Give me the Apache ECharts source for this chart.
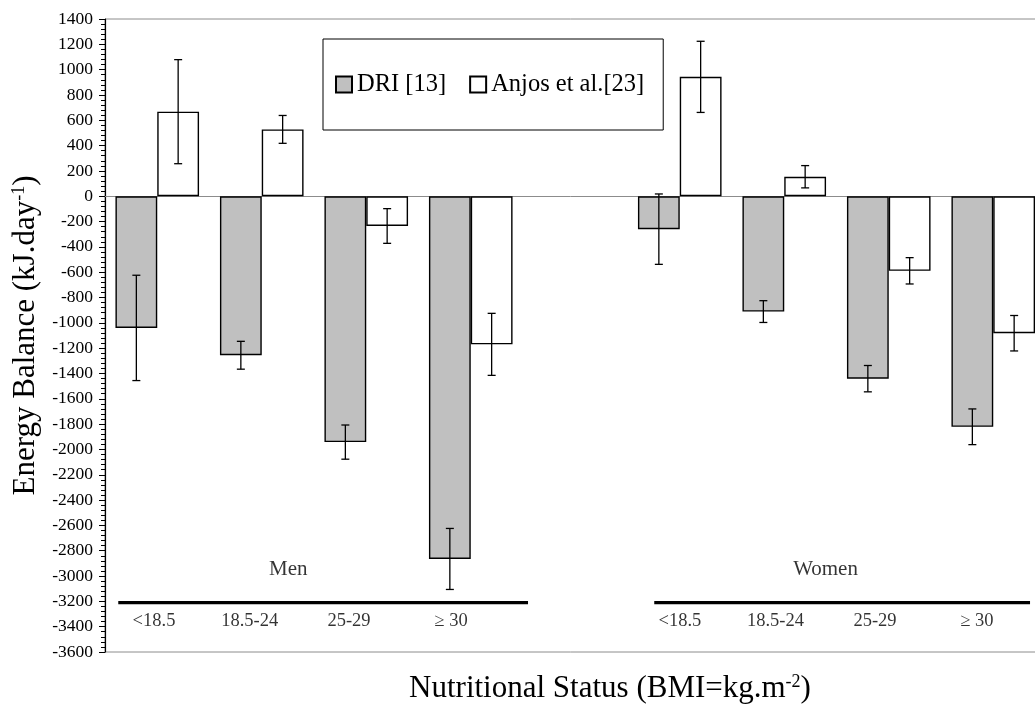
<!DOCTYPE html>
<html>
<head>
<meta charset="utf-8">
<title>Energy Balance by Nutritional Status</title>
<script src="https://cdn.jsdelivr.net/npm/echarts@6/dist/echarts.min.js"></script>
<style>
  html, body { margin: 0; padding: 0; background: #fff; }
  #chart { width: 1035px; height: 709px; }
</style>
</head>
<body>
<div id="chart"></div>
<script>
// BMI classes (kg/m²) shown under each group
const bmiClasses = ['<18.5', '18.5-24', '25-29', '≥ 30'];
const groupNames = ['Men', 'Women'];
const seriesNames = ['DRI [13]', 'Anjos et al.[23]'];

// Energy balance (kJ/day), mean and error-bar half width
const driMen = [-1040, -1256, -1942, -2865];
const driMenErr = [416, 110, 135, 241];
const anjosMen = [668, 528, -235, -1170];
const anjosMenErr = [411, 110, 137, 245];

const driWomen = [-260, -911, -1441, -1821];
const driWomenErr = [278, 86, 104, 141];
const anjosWomen = [943, 154, -589, -1082];
const anjosWomenErr = [281, 88, 104, 140];

// Y axis range / step
const yMin = -3600, yMax = 1400, yStep = 200;

// Category slots: four men, one empty spacer, four women
const slots = [
  ...bmiClasses.map(c => 'Men ' + c),
  '',
  ...bmiClasses.map(c => 'Women ' + c)
];
const withSpacer = (a, b) => [...a, null, ...b];
const driVals = withSpacer(driMen, driWomen);
const driErrs = withSpacer(driMenErr, driWomenErr);
const anjosVals = withSpacer(anjosMen, anjosWomen);
const anjosErrs = withSpacer(anjosMenErr, anjosWomenErr);

// Annotation layout in slot units (0..9 across the plot) and axis values
const classLabelX = [0.469, 1.385, 2.335, 3.311, 5.502, 6.416, 7.368, 8.344];
const classLabelY = -3358;
const groupLabelX = [1.754, 6.895];
const groupLabelY = -2946;
const ruleSpans = [[0.127, 4.048], [5.256, 8.852]];
const ruleY = -3210;

const serif = 'Liberation Serif, Times New Roman, serif';

const errRows = [];
slots.forEach((s, i) => {
  if (driVals[i] != null) errRows.push([i, driVals[i], driErrs[i], -1]);
  if (anjosVals[i] != null) errRows.push([i, anjosVals[i], anjosErrs[i], 1]);
});

const chart = echarts.init(document.getElementById('chart'), null, { renderer: 'canvas' });

const option = {
  animation: false,
  backgroundColor: '#fff',
  textStyle: { fontFamily: serif, color: '#000' },
  grid: {
    left: 105, top: 19, bottom: 57, right: -10.5,
    show: true, borderColor: '#8c8c8c', borderWidth: 1,
    backgroundColor: 'transparent',
    containLabel: false, outerBoundsMode: 'none'
  },
  legend: {
    data: seriesNames,
    left: 323, top: 39,
    orient: 'horizontal',
    icon: 'rect',
    itemWidth: 16, itemHeight: 16, itemGap: 23,
    padding: [33, 19, 33, 12],
    backgroundColor: '#fff',
    borderColor: '#000', borderWidth: 1, borderRadius: 0,
    selectedMode: false,
    textStyle: { fontFamily: serif, fontSize: 24.5, color: '#000' }
  },
  xAxis: [
    {
      type: 'category',
      data: slots,
      axisLine: { show: true, onZero: true, lineStyle: { color: '#8c8c8c', width: 1 } },
      axisTick: { show: false },
      axisLabel: { show: false },
      splitLine: { show: false }
    },
    {
      type: 'value', min: 0, max: slots.length, show: false
    }
  ],
  yAxis: {
    type: 'value',
    min: yMin, max: yMax, interval: yStep,
    name: 'Energy Balance (kJ.day{sup|-1})',
    nameLocation: 'middle',
    nameRotate: 90,
    nameGap: 58,
    nameTextStyle: {
      fontFamily: serif, fontSize: 31, color: '#000',
      rich: { sup: { fontFamily: serif, fontSize: 18, color: '#000', verticalAlign: 'top' } }
    },
    axisLine: { show: true, onZero: false, lineStyle: { color: '#000', width: 1.2 } },
    axisTick: { show: true, length: 6, lineStyle: { color: '#000', width: 1 } },
    minorTick: { show: true, splitNumber: 5, length: 4, lineStyle: { color: '#000', width: 1 } },
    splitLine: { show: false },
    axisLabel: {
      fontFamily: serif, fontSize: 17.5, color: '#000', margin: 12,
      formatter: v => String(v)
    }
  },
  graphic: [
    {
      type: 'text',
      x: 610, y: 689,
      silent: true,
      style: {
        text: 'Nutritional Status (BMI=kg.m{sup|-2})',
        fontFamily: serif, fontSize: 31, fill: '#000',
        align: 'center', verticalAlign: 'middle',
        rich: { sup: { fontFamily: serif, fontSize: 18, fill: '#000', verticalAlign: 'top' } }
      }
    }
  ],
  series: [
    {
      name: seriesNames[0],
      type: 'bar',
      data: driVals,
      barGap: '0%', barCategoryGap: '20%',
      itemStyle: { color: '#c0c0c0', borderColor: '#000', borderWidth: 1.4 },
      emphasis: { disabled: true }
    },
    {
      name: seriesNames[1],
      type: 'bar',
      data: anjosVals,
      barGap: '0%', barCategoryGap: '20%',
      itemStyle: { color: '#ffffff', borderColor: '#000', borderWidth: 1.4 },
      emphasis: { disabled: true }
    },
    {
      // error bars centred on each bar of the pair
      type: 'custom',
      silent: true,
      z: 5,
      data: errRows,
      renderItem: function (params, api) {
        const idx = api.value(0);
        const mean = api.value(1);
        const err = api.value(2);
        const side = api.value(3);
        const band = api.size([1, 0])[0];
        const barW = band * 0.4;
        const cx = api.coord([idx, mean])[0] + side * barW / 2;
        const yTop = api.coord([idx, mean + err])[1];
        const yBot = api.coord([idx, mean - err])[1];
        const cap = 4;
        const st = { stroke: '#000', lineWidth: 1.3 };
        return {
          type: 'group',
          children: [
            { type: 'line', shape: { x1: cx, y1: yTop, x2: cx, y2: yBot }, style: st },
            { type: 'line', shape: { x1: cx - cap, y1: yTop, x2: cx + cap, y2: yTop }, style: st },
            { type: 'line', shape: { x1: cx - cap, y1: yBot, x2: cx + cap, y2: yBot }, style: st }
          ]
        };
      }
    },
    // group underline rules
    ...ruleSpans.map(span => ({
      type: 'line',
      xAxisIndex: 1,
      silent: true,
      symbol: 'none',
      z: 4,
      data: [[span[0], ruleY], [span[1], ruleY]],
      lineStyle: { color: '#000', width: 3.2 }
    })),
    {
      // BMI class labels under each rule
      type: 'scatter',
      xAxisIndex: 1,
      silent: true,
      symbolSize: 0,
      data: classLabelX.map((x, i) => ({ value: [x, classLabelY], name: bmiClasses[i % bmiClasses.length] })),
      label: {
        show: true, position: 'inside',
        formatter: p => p.name,
        fontFamily: serif, fontSize: 18.5, color: '#000'
      }
    },
    {
      // group names above each rule
      type: 'scatter',
      xAxisIndex: 1,
      silent: true,
      symbolSize: 0,
      data: groupLabelX.map((x, i) => ({ value: [x, groupLabelY], name: groupNames[i] })),
      label: {
        show: true, position: 'inside',
        formatter: p => p.name,
        fontFamily: serif, fontSize: 21, color: '#000'
      }
    }
  ]
};

chart.setOption(option);
</script>
</body>
</html>
